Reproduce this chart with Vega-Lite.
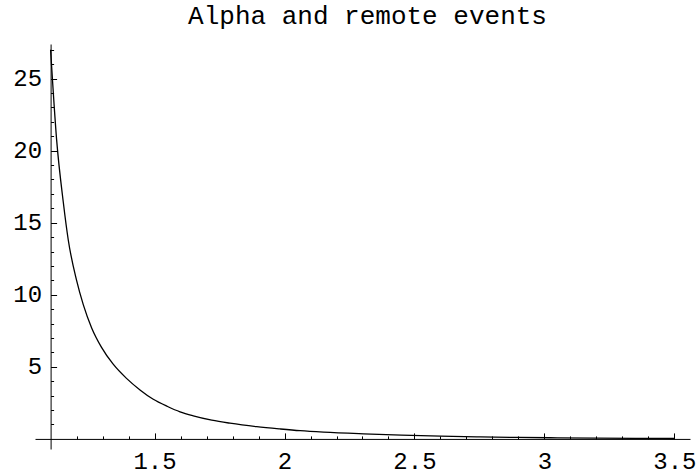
{
  "$schema": "https://vega.github.io/schema/vega-lite/v6.json",
  "autosize": {"type": "none"},
  "width": 655,
  "height": 405,
  "padding": {"left": 35, "top": 44, "right": 8, "bottom": 27},
  "background": "white",
  "config": {"view": {"stroke": null}},
  "title": {
    "text": "Alpha and remote events",
    "font": "Liberation Mono",
    "fontSize": 26,
    "fontWeight": "normal",
    "color": "black",
    "offset": 9,
    "dx": 5
  },
  "data": {
    "values": [
      {"x": 1.10, "y": 27.0},
      {"x": 1.123, "y": 20.8},
      {"x": 1.149, "y": 16.4},
      {"x": 1.168, "y": 13.8},
      {"x": 1.200, "y": 11.0},
      {"x": 1.226, "y": 9.3},
      {"x": 1.258, "y": 7.7},
      {"x": 1.296, "y": 6.35},
      {"x": 1.34, "y": 5.2},
      {"x": 1.392, "y": 4.2},
      {"x": 1.444, "y": 3.4},
      {"x": 1.495, "y": 2.75},
      {"x": 1.55, "y": 2.25},
      {"x": 1.598, "y": 1.88},
      {"x": 1.649, "y": 1.6},
      {"x": 1.72, "y": 1.3},
      {"x": 1.79, "y": 1.09},
      {"x": 1.893, "y": 0.85},
      {"x": 1.983, "y": 0.69},
      {"x": 2.06, "y": 0.57},
      {"x": 2.15, "y": 0.47},
      {"x": 2.304, "y": 0.35},
      {"x": 2.45, "y": 0.26},
      {"x": 2.6, "y": 0.19},
      {"x": 2.753, "y": 0.14},
      {"x": 2.9, "y": 0.10},
      {"x": 3.05, "y": 0.075},
      {"x": 3.2, "y": 0.055},
      {"x": 3.35, "y": 0.04},
      {"x": 3.5, "y": 0.03}
    ]
  },
  "mark": {"type": "line", "color": "black", "strokeWidth": 1.3, "clip": true, "interpolate": "monotone"},
  "encoding": {
    "x": {
      "field": "x",
      "type": "quantitative",
      "scale": {"domain": [1.04, 3.56], "nice": false, "zero": false},
      "axis": {
        "title": null,
        "orient": "bottom",
        "offset": -10.09,
        "grid": false,
        "values": [1.2,1.3,1.4,1.5,1.6,1.7,1.8,1.9,2,2.1,2.2,2.3,2.4,2.5,2.6,2.7,2.8,2.9,3,3.1,3.2,3.3,3.4,3.5],
        "domainColor": "black",
        "domainWidth": 1,
        "tickColor": "black",
        "tickWidth": 1,
        "tickSize": {"condition": {"test": "abs(datum.value*2 - round(datum.value*2)) < 0.001", "value": -6}, "value": -3},
        "labelExpr": "abs(datum.value*2 - round(datum.value*2)) < 0.001 ? '' + round(datum.value*10)/10 : ''",
        "labelFont": "Liberation Mono",
        "labelFontSize": 24,
        "labelColor": "black",
        "labelPadding": 17,
        "labelOverlap": false,
        "labelFlush": false
      }
    },
    "y": {
      "field": "y",
      "type": "quantitative",
      "scale": {"domain": [-0.7, 27.4], "nice": false, "zero": false},
      "axis": {
        "title": null,
        "orient": "left",
        "offset": -15.6,
        "grid": false,
        "values": [1,2,3,4,5,6,7,8,9,10,11,12,13,14,15,16,17,18,19,20,21,22,23,24,25,26,27],
        "domainColor": "black",
        "domainWidth": 1,
        "tickColor": "black",
        "tickWidth": 1,
        "tickSize": {"condition": {"test": "datum.value % 5 === 0", "value": -6}, "value": -3},
        "labelExpr": "datum.value % 5 === 0 ? '' + datum.value : ''",
        "labelFont": "Liberation Mono",
        "labelFontSize": 24,
        "labelColor": "black",
        "labelPadding": 15,
        "labelOverlap": false,
        "labelFlush": false
      }
    }
  }
}
